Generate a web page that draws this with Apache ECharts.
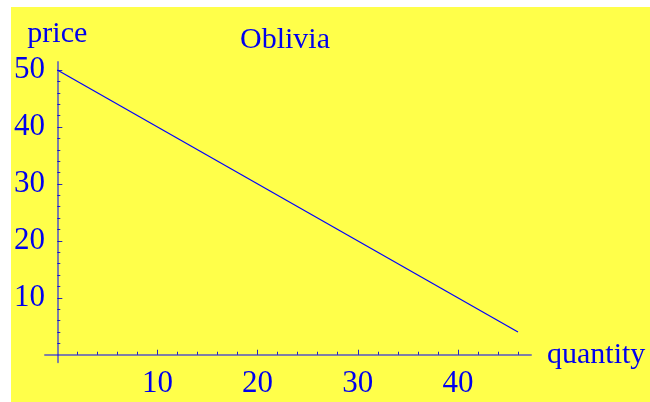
<!DOCTYPE html>
<html>
<head>
<meta charset="utf-8">
<script src="https://cdn.jsdelivr.net/npm/echarts@6/dist/echarts.min.js"></script>
<style>
  html, body { margin: 0; padding: 0; background: #fff; }
  #chart { width: 650px; height: 402px; }
</style>
</head>
<body>
<div id="chart"></div>
<script>
// demand curve for Oblivia: price = 50 - quantity
var quantity = [0, 46];
var price = [50, 4];
var xLabels = [10, 20, 30, 40];
var yLabels = [10, 20, 30, 40, 50];
var xMinor = [2, 4, 6, 8, 12, 14, 16, 18, 22, 24, 26, 28, 32, 34, 36, 38, 42, 44, 46];
var yMinor = [2, 4, 6, 8, 12, 14, 16, 18, 22, 24, 26, 28, 32, 34, 36, 38, 42, 44, 46, 48];

var blue = '#0000ee';
var font = 'Liberation Serif';
var axisColor = 'rgba(0,0,255,0.5)';
var tickColor = 'rgba(0,0,210,0.85)';

var points = [];
for (var i = 0; i < quantity.length; i++) points.push([quantity[i], price[i]]);

var xRange = { min: -1.23, max: 47.3 };
var yRange = { min: -1.33, max: 51.42 };

function xAx(major) {
  return {
    type: 'value', position: 'bottom', min: xRange.min, max: xRange.max,
    splitLine: { show: false },
    axisLine: { show: major, onZero: true, onZeroAxisIndex: major ? 0 : 1,
      lineStyle: { color: axisColor, width: 2 } },
    axisTick: { show: true, inside: true, length: major ? 5 : 3,
      customValues: major ? xLabels : xMinor,
      lineStyle: { color: tickColor, width: 1 } },
    axisLabel: major ? { customValues: xLabels, margin: 6, color: blue,
      fontFamily: font, fontSize: 31 } : { show: false },
    name: major ? 'quantity' : '', nameLocation: 'end', nameGap: 16,
    nameTextStyle: { color: blue, fontFamily: font, fontSize: 30, padding: [5, 0, 0, 0] }
  };
}

function yAx(major) {
  return {
    type: 'value', position: 'left', min: yRange.min, max: yRange.max,
    splitLine: { show: false },
    axisLine: { show: major, onZero: true, onZeroAxisIndex: major ? 0 : 1,
      lineStyle: { color: axisColor, width: 2 } },
    axisTick: { show: true, inside: true, length: major ? 5 : 3,
      customValues: major ? yLabels : yMinor,
      lineStyle: { color: tickColor, width: 1 } },
    axisLabel: major ? { customValues: yLabels, margin: 0, color: blue,
      fontFamily: font, fontSize: 31 } : { show: false },
    name: major ? 'price' : '', nameLocation: 'end', nameGap: 13,
    nameTextStyle: { color: blue, fontFamily: font, fontSize: 30 }
  };
}

var chart = echarts.init(document.getElementById('chart'));
chart.setOption({
  animation: false,
  backgroundColor: '#ffffff',
  graphic: [{
    type: 'rect', left: 11, top: 7, z: -10,
    shape: { width: 639, height: 395 },
    style: { fill: '#ffff4a' }
  }],
  title: {
    text: 'Oblivia', left: 240, top: 25, padding: 0,
    textStyle: { color: blue, fontFamily: font, fontSize: 30, fontWeight: 'normal' }
  },
  grid: { left: 45, right: 119, top: 62, bottom: 39.7, containLabel: false },
  xAxis: [xAx(true), xAx(false)],
  yAxis: [yAx(true), yAx(false)],
  series: [{
    type: 'line', xAxisIndex: 0, yAxisIndex: 0,
    data: points, symbol: 'none',
    lineStyle: { color: '#0000ff', width: 1.2 }
  }]
});
</script>
</body>
</html>
